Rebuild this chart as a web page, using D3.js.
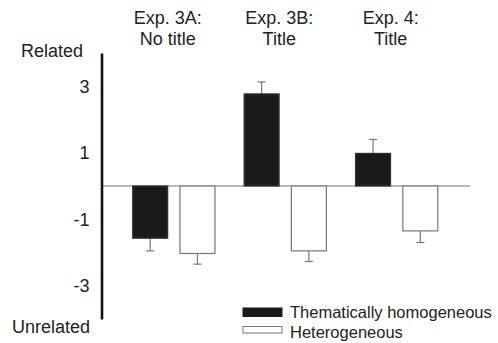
<!DOCTYPE html>
<html>
<head>
<meta charset="utf-8">
<script src="https://cdn.jsdelivr.net/npm/d3@7"></script>
<style>
  body { margin: 0; background: #fff; }
  text { font-family: "Liberation Sans", Arial, sans-serif; fill: #222; }
</style>
</head>
<body>
<div id="chart"></div>
<script>
// data
const experiments = ["3A", "3B", "4"];
const titleLines = [["Exp. 3A:", "No title"], ["Exp. 3B:", "Title"], ["Exp. 4:", "Title"]];
const conditions = ["Thematically homogeneous", "Heterogeneous"];
const homogeneous = [-1.57, 2.77, 0.98];
const homogeneousErr = [0.38, 0.36, 0.42];
const heterogeneous = [-2.03, -1.95, -1.35];
const heterogeneousErr = [0.32, 0.32, 0.35];
const yTicks = [3, 1, -1, -3];

const width = 498, height = 343;

const svg = d3.select("#chart")
  .append("svg")
  .attr("width", width)
  .attr("height", height);

// scales
const x = d3.scaleBand()
  .domain(experiments)
  .range([103.5, 467])
  .padding(0.262);

const xInner = d3.scaleBand()
  .domain(conditions)
  .range([0, x.bandwidth()])
  .paddingInner(0.26)
  .paddingOuter(0);

const y = d3.scaleLinear()
  .domain([-4, 4])
  .range([319, 53]);

// zero line
svg.append("line")
  .attr("x1", 101)
  .attr("x2", 470)
  .attr("y1", y(0))
  .attr("y2", y(0))
  .attr("stroke", "#777")
  .attr("stroke-width", 1);

// rows for the bars
let rows = [];
experiments.forEach((e, i) => {
  rows.push({ exp: e, cond: conditions[0], v: homogeneous[i], err: homogeneousErr[i] });
  rows.push({ exp: e, cond: conditions[1], v: heterogeneous[i], err: heterogeneousErr[i] });
});

const barX = d => x(d.exp) + xInner(d.cond);

// error bars (drawn first so bars sit on top)
const eb = svg.append("g")
  .attr("stroke", "#777")
  .attr("stroke-width", 1.2)
  .selectAll("g")
  .data(rows)
  .enter()
  .append("g");

eb.append("line")
  .attr("x1", d => barX(d) + xInner.bandwidth() / 2)
  .attr("x2", d => barX(d) + xInner.bandwidth() / 2)
  .attr("y1", d => y(d.v))
  .attr("y2", d => y(d.v + Math.sign(d.v) * d.err));

eb.append("line")
  .attr("x1", d => barX(d) + xInner.bandwidth() / 2 - 4)
  .attr("x2", d => barX(d) + xInner.bandwidth() / 2 + 4)
  .attr("y1", d => y(d.v + Math.sign(d.v) * d.err))
  .attr("y2", d => y(d.v + Math.sign(d.v) * d.err));

// bars
svg.append("g")
  .selectAll("rect")
  .data(rows)
  .enter()
  .append("rect")
  .attr("x", d => barX(d))
  .attr("width", xInner.bandwidth())
  .attr("y", d => y(Math.max(0, d.v)))
  .attr("height", d => Math.abs(y(d.v) - y(0)))
  .attr("fill", d => d.cond === conditions[0] ? "#1a1a1a" : "#fff")
  .attr("stroke", d => d.cond === conditions[0] ? "#333" : "#777")
  .attr("stroke-width", 1.2);

// y axis (plain hyphen minus like the original)
const yAxis = svg.append("g")
  .attr("transform", "translate(101.5,0)")
  .call(d3.axisLeft(y).tickValues(yTicks).tickSize(0).tickSizeOuter(0).tickPadding(12).tickFormat(d => String(d)));
yAxis.select(".domain")
  .attr("stroke", "#111")
  .attr("stroke-width", 2.6);
yAxis.selectAll("text")
  .style("font-family", "'Liberation Sans', Arial, sans-serif")
  .style("font-size", "18px")
  .attr("fill", "#222");

svg.append("text")
  .attr("x", 21)
  .attr("y", 56.5)
  .style("font-size", "18px")
  .text("Related");

svg.append("text")
  .attr("x", 12)
  .attr("y", 333)
  .style("font-size", "18px")
  .text("Unrelated");

// experiment titles
experiments.forEach((e, i) => {
  const t = svg.append("text")
    .attr("text-anchor", "middle")
    .style("font-size", "18px");
  titleLines[i].forEach((line, j) => {
    t.append("tspan")
      .attr("x", x(e) + x.bandwidth() / 2 - 6)
      .attr("y", 24 + j * 21)
      .text(line);
  });
});

// legend
const legend = svg.append("g")
  .selectAll("g")
  .data(conditions)
  .enter()
  .append("g")
  .attr("transform", (d, i) => `translate(243, ${308 + i * 18.5})`);

legend.append("rect")
  .attr("width", 39)
  .attr("height", (d, i) => i === 0 ? 8.5 : 6.5)
  .attr("fill", (d, i) => i === 0 ? "#1a1a1a" : "#fff")
  .attr("stroke", (d, i) => i === 0 ? "#1a1a1a" : "#777")
  .attr("stroke-width", 1);

legend.append("text")
  .attr("x", 47)
  .attr("y", (d, i) => i === 0 ? 10.3 : 11.8)
  .style("font-size", "16.5px")
  .text(d => d);
</script>
</body>
</html>
